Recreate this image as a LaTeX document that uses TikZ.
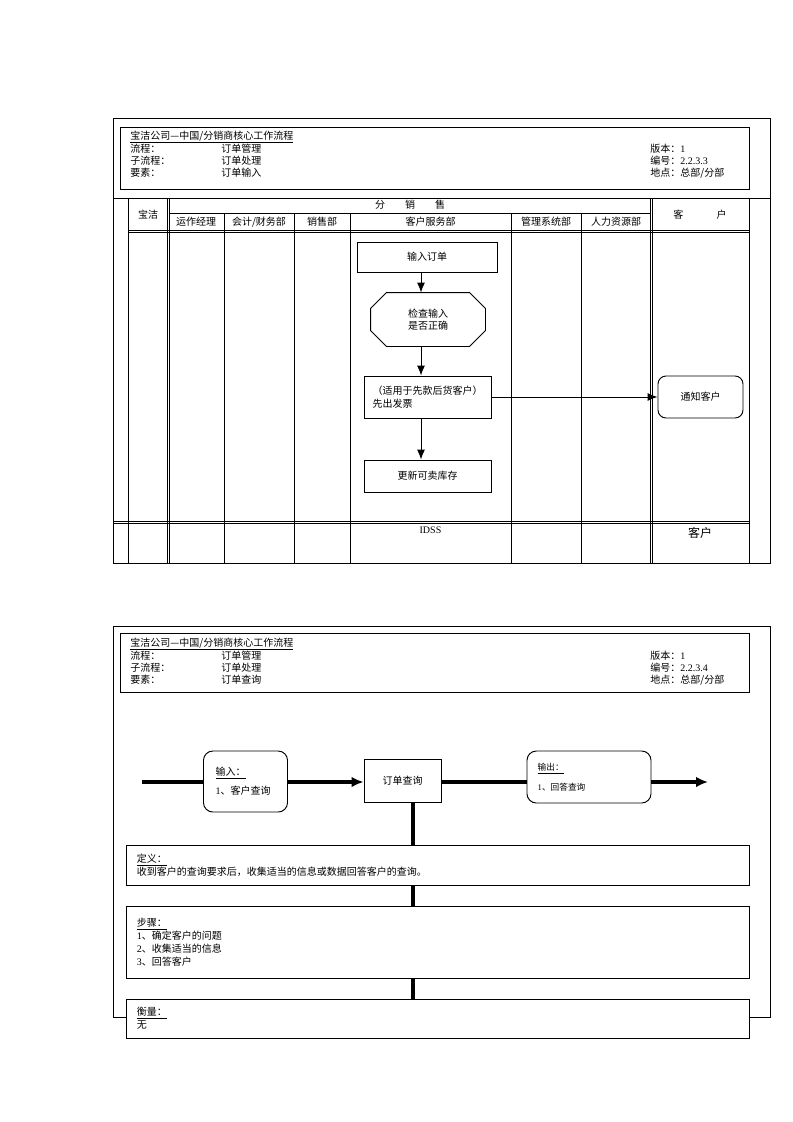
\documentclass[tikz,border=0pt]{standalone}
\usepackage{fontspec}
\setmainfont{Noto Sans CJK SC}
\newfontfamily\lat{Liberation Serif}
\usetikzlibrary{arrows.meta}

\begin{document}
\begin{tikzpicture}[x=0.75pt,y=-0.75pt,line width=0.7pt,
  font=\fontsize{7.5}{9.5}\selectfont,
  txt/.style={anchor=west,inner sep=0pt},
  fbox/.style={draw,line width=0.7pt,align=center,inner sep=1pt},
  rbox/.style={fbox,rounded corners=6pt},
  ibox/.style={draw,fill=white,line width=0.7pt,text width=451pt,inner xsep=8pt,align=left,
    minimum width=467.25pt,font=\fontsize{7.5}{9.75}\selectfont},
  thinarrow/.style={-{Latex[length=7.5pt,width=6pt]}},
  heavy/.style={line width=3pt},
  heavyarrow/.style={heavy,-{Latex[length=9pt,width=8pt]}}]

\useasboundingbox (0,0) rectangle (793,1122);

% frame 1
\draw (113,118) rectangle (770,563);
\draw (113,198) -- (770,198);
\draw (120,127) rectangle (749,189);
\draw (128,198) -- (128,563);
\draw (167,198) -- (167,563) (169.5,198) -- (169.5,563);
\draw (650,198) -- (650,563) (652.5,198) -- (652.5,563);
\draw (749,198) -- (749,563);
\draw (169.5,213) -- (650,213);
\draw (128,230) -- (749,230) (128,232.5) -- (749,232.5);
\draw (113,521) -- (749,521) (113,523.5) -- (749,523.5);
\draw (224,213) -- (224,563) (294,213) -- (294,563) (350,213) -- (350,563)
      (511,213) -- (511,563) (581,213) -- (581,563);

\node(h1)[txt] at (130,137){\underline{宝洁公司—中国/分销商核心工作流程}};
\node(h2)[txt] at (130,149){流程：};
\node(h3)[txt] at (221,149){订单管理};
\node(h4)[txt] at (130,161){子流程：};
\node(h5)[txt] at (221,161){订单处理};
\node(h6)[txt] at (130,173){要素：};
\node(h7)[txt] at (221,173){订单输入};
\node(h8)[txt] at (650,149){版本：{\lat 1}};
\node(h9)[txt] at (650,161){编号：{\lat 2.2.3.3}};
\node(h10)[txt] at (650,173){地点：总部/分部};

\node(l1) at (148,215){宝洁};
\node(l2) at (410,205){分\hspace{15pt}销\hspace{15pt}售};
\node(l3) at (700,215){客\hspace{25pt}户};
\node(l4) at (196,222){运作经理};
\node(l5) at (259,222){会计/财务部};
\node(l6) at (322,222){销售部};
\node(l7) at (430.5,222){客户服务部};
\node(l8) at (546,222){管理系统部};
\node(l9) at (616,222){人力资源部};
\node(l10) at (430.5,530){\lat IDSS};
\node(l11)[font=\fontsize{9}{11}\selectfont] at (700,533){客户};

% flow 1
\coordinate(a) at (421,0);
\node(1)[fbox,minimum width=105pt,minimum height=22.5pt] at (427,257){输入订单};
\node(2)[minimum width=85.5pt,minimum height=39.75pt,align=center] at (428,319.5){检查输入\\是否正确};
\draw ([xshift=12pt]2.north west) -- ([xshift=-12pt]2.north east) -- ([yshift=-12pt]2.north east)
  -- ([yshift=12pt]2.south east) -- ([xshift=-12pt]2.south east) -- ([xshift=12pt]2.south west)
  -- ([yshift=12pt]2.south west) -- ([yshift=-12pt]2.north west) -- cycle;
\node(3)[fbox,minimum width=95.25pt,minimum height=31.5pt,align=left] at (427.5,397){（适用于先款后货客户）\\先出发票};
\node(4)[fbox,minimum width=95.25pt,minimum height=24pt] at (427.5,476){更新可卖库存};
\node(5)[rbox,minimum width=63.75pt,minimum height=31.5pt] at (700.5,397){通知客户};
\draw[thinarrow](1.south -| a)--(2.north -| a);
\draw[thinarrow](2.south -| a)--(3.north -| a);
\draw[thinarrow](3.south -| a)--(4.north -| a);
\draw[thinarrow](3.east)--(5.west);

% frame 2
\draw (113,626) rectangle (770,1017);
\draw (120,633) rectangle (749,692);

\node(k1)[txt] at (130,644){\underline{宝洁公司—中国/分销商核心工作流程}};
\node(k2)[txt] at (130,656){流程：};
\node(k3)[txt] at (221,656){订单管理};
\node(k4)[txt] at (130,668){子流程：};
\node(k5)[txt] at (221,668){订单处理};
\node(k6)[txt] at (130,680){要素：};
\node(k7)[txt] at (221,680){订单查询};
\node(k8)[txt] at (650,656){版本：{\lat 1}};
\node(k9)[txt] at (650,668){编号：{\lat 2.2.3.4}};
\node(k10)[txt] at (650,680){地点：总部/分部};

% flow 2
\coordinate(c1) at (142,782);
\coordinate(c2) at (708,782);
\coordinate(c3) at (413,845);
\node(6)[rbox,rounded corners=7pt,minimum height=45.75pt,text width=45pt,inner xsep=9pt,align=left]
  at (245.5,781.5){\underline{输入：}\\[4.5pt]{\lat 1}、客户查询};
\node(7)[fbox,minimum width=57.75pt,minimum height=32.25pt] at (402.5,780.5){订单查询};
\node(8)[rbox,rounded corners=7pt,minimum height=39pt,text width=77pt,inner xsep=8pt,align=left,
  font=\fontsize{6.5}{8}\selectfont] at (589,777){\underline{输出：}\\[7pt]{\lat 1}、回答查询};
\node(9)[ibox,minimum height=30pt] at (437.5,865){\underline{定义：}\\收到客户的查询要求后，收集适当的信息或数据回答客户的查询。};
\node(10)[ibox,minimum height=54pt] at (437.5,942){\underline{步骤：}\\{\lat 1}、确定客户的问题\\{\lat 2}、收集适当的信息\\{\lat 3}、回答客户};
\node(11)[ibox,minimum height=29.25pt] at (437.5,1018.5){\underline{衡量：}\\无};
\draw[heavy](c1)--(6.west |- c1);
\draw[heavyarrow](6.east |- c1)--(7.west |- c1);
\draw[heavy](7.east |- c1)--(8.west |- c1);
\draw[heavyarrow](8.east |- c1)--(c2);
\draw[heavy](7.south -| c3)--(9.north -| c3);
\draw[heavy](9.south -| c3)--(10.north -| c3);
\draw[heavy](10.south -| c3)--(11.north -| c3);
\end{tikzpicture}
\end{document}
